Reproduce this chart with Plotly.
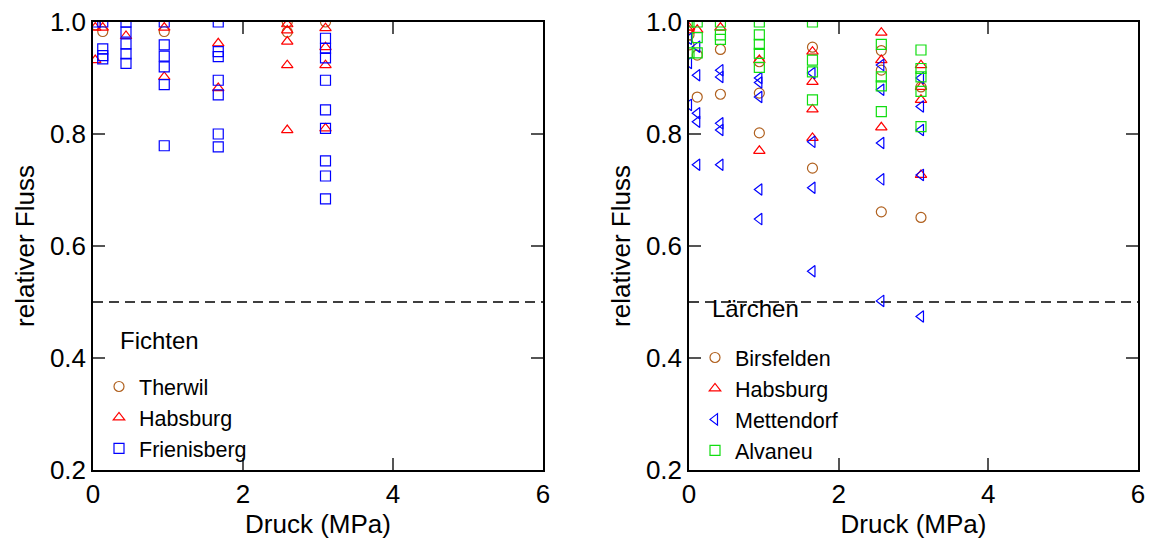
import plotly.graph_objects as go

# ---- Fichten (left panel) ----
therwil_x = [0.03, 0.13, 0.95, 2.59, 2.59, 3.10]
therwil_y = [0.995, 0.983, 0.983, 1.000, 0.982, 1.000]

habsburg_f_x = [0.03, 0.03, 0.13, 0.44, 0.95, 0.95, 1.67, 1.67,
                2.59, 2.59, 2.59, 2.59, 2.59, 3.10, 3.10, 3.10, 3.10]
habsburg_f_y = [0.990, 0.932, 0.990, 0.975, 0.990, 0.902, 0.962, 0.882,
                0.996, 0.985, 0.965, 0.923, 0.807, 0.989, 0.955, 0.923, 0.810]

frienisberg_x = [0.03, 0.13, 0.13, 0.13, 0.13,
                 0.44, 0.44, 0.44, 0.44, 0.44,
                 0.95, 0.95, 0.95, 0.95, 0.95, 0.95,
                 1.67, 1.67, 1.67, 1.67, 1.67, 1.67, 1.67,
                 3.10, 3.10, 3.10, 3.10, 3.10, 3.10, 3.10, 3.10, 3.10]
frienisberg_y = [1.000, 1.000, 0.952, 0.940, 0.934,
                 1.000, 0.982, 0.961, 0.943, 0.926,
                 1.000, 0.959, 0.939, 0.920, 0.888, 0.779,
                 1.000, 0.947, 0.938, 0.896, 0.870, 0.800, 0.777,
                 0.971, 0.953, 0.936, 0.896, 0.843, 0.810, 0.752, 0.725, 0.684]

# ---- Lärchen (right panel) ----
birsfelden_x = [0.00, 0.00, 0.11, 0.11, 0.42, 0.42, 0.94, 0.94, 0.94,
                1.65, 1.65, 2.57, 2.57, 2.57, 3.10, 3.10]
birsfelden_y = [0.977, 0.959, 0.941, 0.866, 0.951, 0.871, 0.929, 0.873, 0.802,
                0.955, 0.739, 0.949, 0.914, 0.661, 0.884, 0.651]

habsburg_l_x = [0.00, 0.00, 0.11, 0.42, 0.94, 0.94, 1.65, 1.65, 1.65, 1.65,
                2.57, 2.57, 2.57, 3.10, 3.10, 3.10, 3.10]
habsburg_l_y = [0.990, 0.985, 0.986, 0.990, 0.932, 0.770, 0.947, 0.893, 0.844, 0.793,
                0.981, 0.932, 0.812, 0.923, 0.884, 0.861, 0.727]

mettendorf_x = [0.00, 0.00, 0.00, 0.11, 0.11, 0.11, 0.11, 0.11,
                0.42, 0.42, 0.42, 0.42, 0.42, 0.94, 0.94, 0.94, 0.94, 0.94,
                1.65, 1.65, 1.65, 1.65, 2.57, 2.57, 2.57, 2.57, 2.57,
                3.10, 3.10, 3.10, 3.10, 3.10]
mettendorf_y = [0.970, 0.927, 0.852, 0.956, 0.905, 0.837, 0.822, 0.745,
                0.914, 0.902, 0.819, 0.807, 0.745, 0.900, 0.892, 0.866, 0.701, 0.648,
                0.909, 0.786, 0.704, 0.555, 0.923, 0.879, 0.784, 0.719, 0.502,
                0.900, 0.849, 0.807, 0.727, 0.474]

alvaneu_x = [0.00, 0.00, 0.11, 0.11, 0.11, 0.42, 0.42, 0.42,
             0.94, 0.94, 0.94, 0.94, 0.94, 1.65, 1.65, 1.65, 1.65,
             2.57, 2.57, 2.57, 2.57, 3.10, 3.10, 3.10, 3.10, 3.10]
alvaneu_y = [1.000, 0.945, 1.000, 0.972, 0.945, 1.000, 0.977, 0.969,
             1.000, 0.977, 0.960, 0.944, 0.919, 1.000, 0.932, 0.911, 0.861,
             0.960, 0.902, 0.886, 0.840, 0.950, 0.917, 0.902, 0.876, 0.813]

threshold = 0.5

BROWN = "#B0601E"
RED = "#FF0000"
BLUE = "#0000FF"
GREEN = "#11DD11"
FONT = "Liberation Sans, Arial, sans-serif"
FS = 26
LFS = 21.5


def series(x, y, name, symbol, color, xa, ya, legend):
    return go.Scatter(
        x=x, y=y, mode="markers", name=name, xaxis=xa, yaxis=ya, legend=legend,
        marker=dict(symbol=symbol, size=10, color=color,
                    line=dict(color=color, width=1.2)),
    )


fig = go.Figure()
fig.add_trace(series(therwil_x, therwil_y, "Therwil", "circle-open", BROWN, "x", "y", "legend"))
fig.add_trace(series(habsburg_f_x, habsburg_f_y, "Habsburg", "triangle-up-open", RED, "x", "y", "legend"))
fig.add_trace(series(frienisberg_x, frienisberg_y, "Frienisberg", "square-open", BLUE, "x", "y", "legend"))

fig.add_trace(series(birsfelden_x, birsfelden_y, "Birsfelden", "circle-open", BROWN, "x2", "y2", "legend2"))
fig.add_trace(series(habsburg_l_x, habsburg_l_y, "Habsburg", "triangle-up-open", RED, "x2", "y2", "legend2"))
fig.add_trace(series(mettendorf_x, mettendorf_y, "Mettendorf", "triangle-left-open", BLUE, "x2", "y2", "legend2"))
fig.add_trace(series(alvaneu_x, alvaneu_y, "Alvaneu", "square-open", GREEN, "x2", "y2", "legend2"))

for xr, yr in (("x", "y"), ("x2", "y2")):
    fig.add_shape(type="line", xref=xr, yref=yr, x0=0, x1=6, y0=threshold, y1=threshold,
                  line=dict(color="black", width=1.3, dash="10px,6px"), layer="below")

W, H = 1150, 541
ydom = [(H - 470) / H, (H - 22) / H]

axis_common = dict(
    showline=True, linecolor="black", linewidth=1.5, mirror="ticks",
    ticks="inside", ticklen=12, tickcolor="#555555", tickwidth=1.5,
    showgrid=False, zeroline=False, automargin=False,
    tickfont=dict(family=FONT, size=FS, color="black"),
    title_font=dict(family=FONT, size=FS, color="black"),
)

xcommon = dict(axis_common, range=[0, 6], tickvals=[0, 2, 4, 6], ticktext=["0", "2", "4", "6"],
               title_text="Druck (MPa)", title_standoff=6)
ycommon = dict(axis_common, range=[0.2, 1.0], tickvals=[0.2, 0.4, 0.6, 0.8, 1.0],
               tickformat=".1f", title_text="relativer Fluss", title_standoff=8)

legend_common = dict(
    xanchor="left", yanchor="top", bgcolor="rgba(0,0,0,0)", borderwidth=0,
    font=dict(family=FONT, size=LFS, color="black"),
    itemwidth=30, tracegroupgap=0,
)

fig.update_layout(
    width=W, height=H,
    margin=dict(l=0, r=0, t=0, b=0),
    paper_bgcolor="white", plot_bgcolor="white",
    font=dict(family=FONT, size=FS, color="black"),
    xaxis=dict(xcommon, domain=[93 / W, 543 / W], anchor="y"),
    yaxis=dict(ycommon, domain=ydom, anchor="x"),
    xaxis2=dict(xcommon, domain=[689 / W, 1138 / W], anchor="y2"),
    yaxis2=dict(ycommon, domain=ydom, anchor="x2"),
    legend=dict(legend_common, x=99 / W, y=1 - 366 / H),
    legend2=dict(legend_common, x=695 / W, y=1 - 337 / H),
    showlegend=True,
    annotations=[
        dict(text="Fichten", x=118 / W, y=1 - 340 / H, xref="paper", yref="paper",
             xanchor="left", yanchor="middle", showarrow=False,
             font=dict(family=FONT, size=FS - 2, color="black")),
        dict(text="Lärchen", x=710 / W, y=1 - 308 / H, xref="paper", yref="paper",
             xanchor="left", yanchor="middle", showarrow=False,
             font=dict(family=FONT, size=FS - 2, color="black")),
    ],
)

fig.write_html("out.html")
